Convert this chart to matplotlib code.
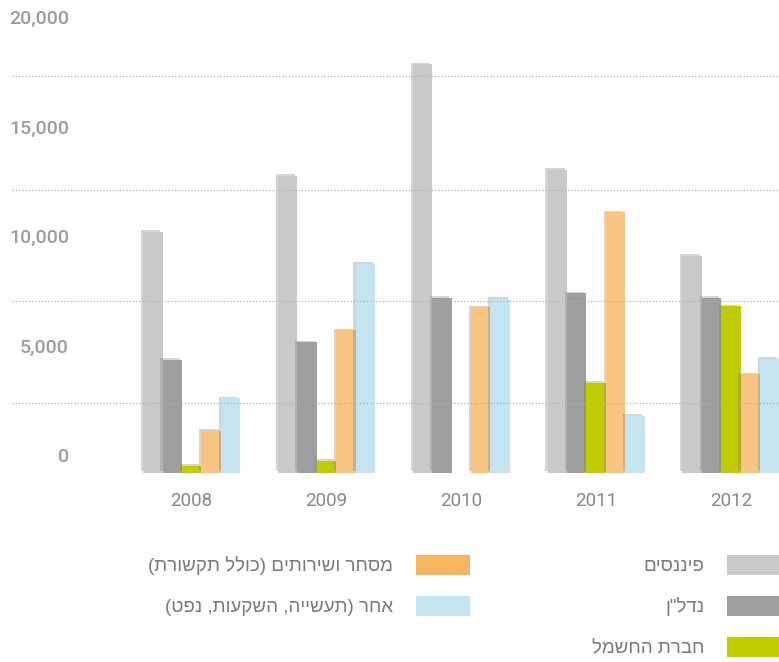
import numpy as np
import matplotlib
matplotlib.use('Agg')
import matplotlib.pyplot as plt
from matplotlib import patheffects
from matplotlib.patches import Patch
from matplotlib.transforms import ScaledTranslation

years = ['2008', '2009', '2010', '2011', '2012']
finance = [11000, 13550, 18650, 13850, 9900]
real_estate = [5150, 5950, 8000, 8200, 8000]
electric = [300, 550, 0, 4100, 7600]
trade = [1900, 6500, 7550, 11900, 4500]
other = [3400, 9550, 7950, 2600, 5200]

series_names = ['פיננסים', 'נדל"ן', 'חברת החשמל',
                'מסחר ושירותים (כולל תקשורת)', 'אחר (תעשייה, השקעות, נפט)']
bar_colors = ['#c8c9cb', '#9d9ea0', '#bfcd00', '#f9c47f', '#c4e4f0']
legend_colors = ['#c8c9cb', '#9d9ea0', '#bfcc00', '#f7b461', '#c4e4f0']
y_ticks = [0, 5000, 10000, 15000, 20000]
grid_levels = [3200, 7850, 12900, 18100]

hebrew_font = ['Liberation Sans', 'DejaVu Sans']


def visual(s):
    # matplotlib draws left to right, so flip the Hebrew by hand
    return s[::-1].translate(str.maketrans('()', ')('))


W, H = 779, 662
fig = plt.figure(figsize=(W / 100, H / 100), dpi=100)
ax = fig.add_axes([12 / W, (H - 472.7) / H, 767 / W, 472.7 / H])

x = np.arange(len(years))
width = 0.144
shadow = [patheffects.SimplePatchShadow(offset=(-1.6, 1.2), shadow_rgbFace='#777777', alpha=0.3),
          patheffects.Normal()]
for i, (vals, col) in enumerate(zip([finance, real_estate, electric, trade, other], bar_colors)):
    bars = ax.bar(x + (i - 2) * width, vals, width, color=col, linewidth=0, zorder=2)
    for b in bars:
        b.set_path_effects(shadow)

for g in grid_levels:
    ax.axhline(g, color='#b0b0b0', lw=0.9, ls=(0, (1, 1.6)), zorder=3)

ax.set_xlim(-1.333, 4.357)
ax.set_ylim(0, 472.7 / 0.02189)
for s in ax.spines.values():
    s.set_visible(False)
ax.set_xticks(x, years)
ax.tick_params(axis='x', length=0, pad=14, labelsize=13.5, labelcolor='#888888')
for lab in ax.get_xticklabels():
    lab.set_family('Roboto')
ax.set_yticks([])

off = ScaledTranslation(0, 15.7 / 100, fig.dpi_scale_trans)
for v in y_ticks:
    ax.text(-0.91, v, f'{v:,}', transform=ax.transData + off, ha='right', va='center',
            fontsize=14, color='#9c9c9c', fontweight='medium', family='Roboto')

handles = [Patch(facecolor=c, linewidth=0) for c in legend_colors]
labels = [visual(n) for n in series_names]
common = dict(loc='upper right', markerfirst=False, frameon=False, handlelength=2.9,
              handleheight=1.24, handletextpad=1.2, labelspacing=1.12, borderpad=0,
              borderaxespad=0, labelcolor='#7a7a7a', prop={'family': hebrew_font, 'size': 13.5})
fig.legend(handles[:3], labels[:3], bbox_to_anchor=(781 / W, 1 - 555 / H), **common)
fig.legend(handles[3:], labels[3:], bbox_to_anchor=(470 / W, 1 - 555 / H), **common)

fig.savefig('out.png', dpi=100)
